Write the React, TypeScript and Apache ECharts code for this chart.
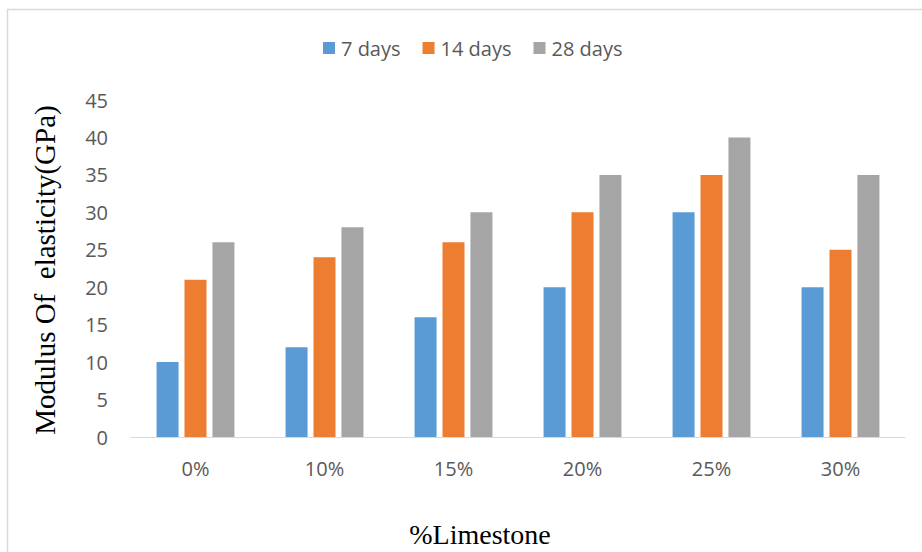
import React, { useEffect, useRef } from "react";
import * as echarts from "echarts";

const categories = ["0%", "10%", "15%", "20%", "25%", "30%"];
const days7 = [10, 12, 16, 20, 30, 20];
const days14 = [21, 24, 26, 30, 35, 25];
const days28 = [26, 28, 30, 35, 40, 35];
const seriesNames = ["7 days", "14 days", "28 days"];
const yTitle = "Modulus Of  elasticity(GPa)";
const xTitle = "%Limestone";

export default function App() {
  const ref = useRef<HTMLDivElement>(null);
  useEffect(() => {
    if (!ref.current) return;
    const chart = echarts.init(ref.current, null, { renderer: "svg" });
    const labelFont = "'Open Sans', sans-serif";
    chart.setOption({
      animation: false,
      backgroundColor: "#ffffff",
      legend: {
        left: 318,
        top: 33,
        itemWidth: 12,
        itemHeight: 12,
        itemGap: 22,
        icon: "rect",
        textStyle: { color: "#595959", fontSize: 20, fontFamily: labelFont, padding: [0, 0, 0, 1] },
        data: seriesNames,
      },
      grid: { left: 131, right: 17, top: 100, bottom: 115, containLabel: false },
      xAxis: {
        type: "category",
        data: categories,
        axisLine: { lineStyle: { color: "#d9d9d9", width: 1 } },
        axisTick: { length: 7, lineStyle: { color: "#d9d9d9" } },
        axisLabel: { color: "#595959", fontSize: 20, fontFamily: labelFont, margin: 21 },
      },
      yAxis: {
        type: "value",
        min: 0,
        max: 45,
        interval: 5,
        axisLine: { show: false },
        axisTick: { show: false },
        splitLine: { show: false },
        axisLabel: { color: "#595959", fontSize: 20, fontFamily: labelFont, margin: 23 },
      },
      series: [
        { name: seriesNames[0], type: "bar", data: days7, barWidth: 22, barGap: "27%", itemStyle: { color: "#5B9BD5" } },
        { name: seriesNames[1], type: "bar", data: days14, barWidth: 22, barGap: "27%", itemStyle: { color: "#ED7D31" } },
        { name: seriesNames[2], type: "bar", data: days28, barWidth: 22, barGap: "27%", itemStyle: { color: "#A5A5A5" } },
      ],
      graphic: [
        {
          type: "rect",
          silent: true,
          z: -10,
          shape: { x: 7.5, y: 9.5, width: 1000, height: 700 },
          style: { fill: "none", stroke: "#d9d9d9", lineWidth: 1.5 },
        },
        {
          type: "text",
          x: 45,
          y: 270,
          rotation: Math.PI / 2,
          style: {
            text: yTitle,
            fill: "#000000",
            font: "29px 'Liberation Serif', 'Times New Roman', serif",
            align: "center",
            verticalAlign: "middle",
          },
        },
        {
          type: "text",
          x: 480,
          y: 534,
          style: {
            text: xTitle,
            fill: "#000000",
            font: "28px 'Liberation Serif', 'Times New Roman', serif",
            align: "center",
            verticalAlign: "middle",
          },
        },
      ],
    });
    return () => chart.dispose();
  }, []);
  return (
    <div
      ref={ref}
      style={{ position: "fixed", left: 0, top: 0, width: 922, height: 552 }}
    />
  );
}
